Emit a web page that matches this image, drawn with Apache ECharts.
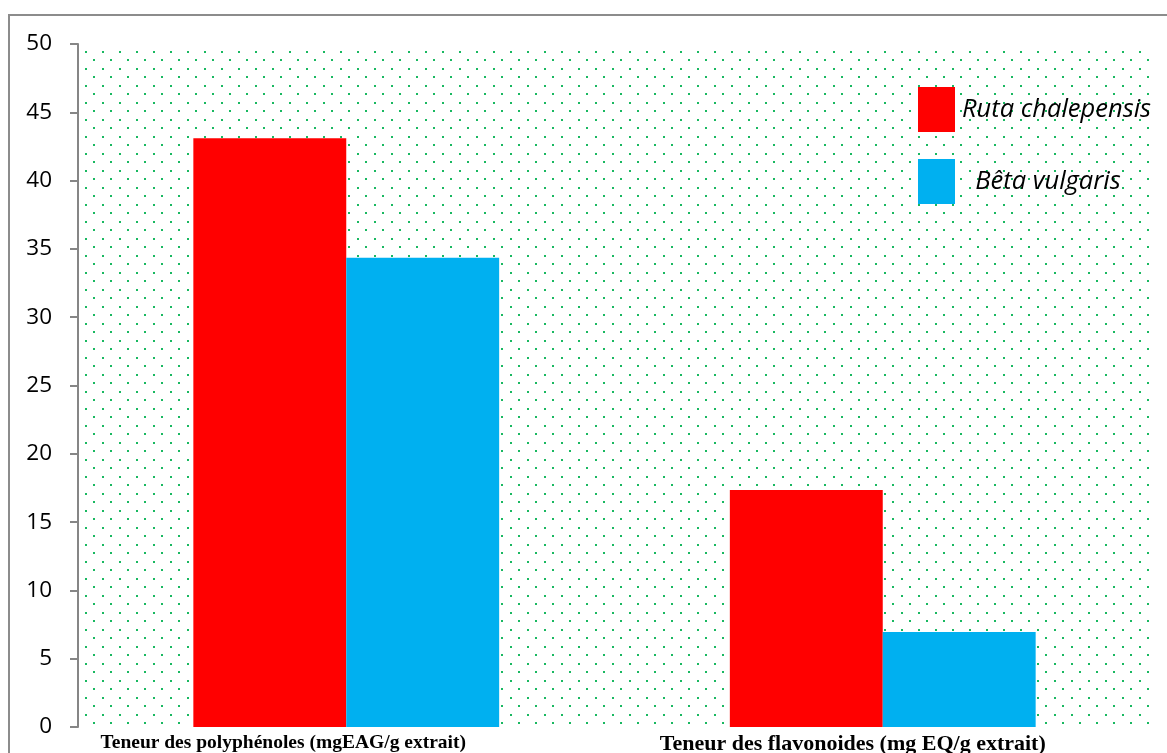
<!DOCTYPE html>
<html>
<head>
<meta charset="utf-8">
<script src="https://cdn.jsdelivr.net/npm/echarts@6/dist/echarts.min.js"></script>
<style>html,body{margin:0;padding:0;background:#fff;}#c{width:1167px;height:753px;}</style>
</head>
<body>
<div id="c"></div>
<script>
var categories = ['Teneur des polyphénoles (mgEAG/g extrait)', 'Teneur des flavonoides (mg EQ/g extrait)'];
var seriesNames = ['Ruta chalepensis', 'Bêta vulgaris'];
var rutaValues = [43.1, 17.35];
var betaValues = [34.35, 6.95];
var yTicks = [0, 5, 10, 15, 20, 25, 30, 35, 40, 45, 50];

var tile = document.createElement('canvas');
tile.width = 17; tile.height = 17;
var tc = tile.getContext('2d');
tc.fillStyle = 'rgba(0,176,80,0.9)';
tc.fillRect(0, 0, 2, 2);
tc.fillRect(8, 8, 2, 2);

var chart = echarts.init(document.getElementById('c'), null, {renderer: 'canvas'});
var option = {
  animation: false,
  backgroundColor: '#fff',
  graphic: [{
    type: 'rect', silent: true, z: -1,
    shape: {x: 9, y: 15, width: 1200, height: 800},
    style: {fill: 'none', stroke: '#8c8c8c', lineWidth: 2}
  }],
  grid: {
    left: 78, right: 16, top: 44, bottom: 26,
    containLabel: false, outerBoundsMode: 'none',
    show: true, borderWidth: 0,
    backgroundColor: {image: tile, repeat: 'repeat'}
  },
  legend: {
    orient: 'vertical', left: 913, top: 82,
    itemWidth: 37, itemHeight: 45, itemGap: 27,
    icon: 'rect',
    data: seriesNames,
    formatter: function (n) { return n === seriesNames[1] ? '  ' + n : n; },
    textStyle: {fontFamily: 'Open Sans', fontStyle: 'italic', fontSize: 25.5, color: '#000', padding: [0, 0, 0, 2]}
  },
  xAxis: {
    type: 'category',
    data: [
      {value: categories[0], textStyle: {padding: [0, 126, 0, 0], fontSize: 19.5}},
      {value: categories[1], textStyle: {padding: [0, 60, 0, 0], fontSize: 22}}
    ],
    axisLine: {show: false},
    axisTick: {show: false},
    axisLabel: {
      interval: 0, margin: 6, color: '#000',
      fontFamily: 'Liberation Serif', fontWeight: 'bold', fontSize: 19.5
    }
  },
  yAxis: {
    type: 'value', min: yTicks[0], max: yTicks[yTicks.length - 1], interval: 5,
    axisLine: {show: true, lineStyle: {color: '#868686', width: 2}},
    axisTick: {show: true, length: 8, lineStyle: {color: '#868686', width: 2}},
    splitLine: {show: false},
    axisLabel: {margin: 26, color: '#000', fontFamily: 'Open Sans', fontSize: 22.5}
  },
  series: [
    {name: seriesNames[0], type: 'bar', data: rutaValues, barGap: '0%', barCategoryGap: '43%',
     itemStyle: {color: '#ff0000'}},
    {name: seriesNames[1], type: 'bar', data: betaValues, barGap: '0%', barCategoryGap: '43%',
     itemStyle: {color: '#00b0f0'}}
  ]
};
chart.setOption(option);
</script>
</body>
</html>
